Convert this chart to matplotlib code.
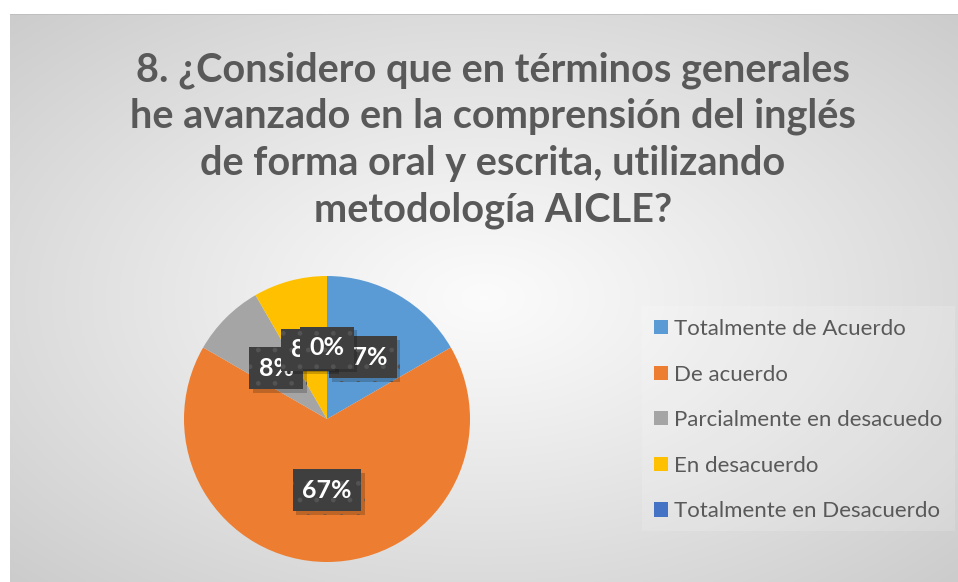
import numpy as np
import matplotlib
matplotlib.use("Agg")
import matplotlib.pyplot as plt
import matplotlib.patheffects as pe
from matplotlib.patches import Rectangle

# Survey answers (number of students per option)
categories = ["Totalmente de Acuerdo", "De acuerdo", "Parcialmente en desacuedo",
              "En desacuerdo", "Totalmente en Desacuerdo"]
counts = [2, 8, 1, 1, 0]
colors = ["#5B9BD5", "#ED7D31", "#A5A5A5", "#FFC000", "#4472C4"]
title_lines = ["8. ¿Considero que en términos generales",
               "he avanzado en la comprensión del inglés",
               "de forma oral y escrita, utilizando",
               "metodología AICLE?"]

W, H = 958, 582
fig = plt.figure(figsize=(W / 100, H / 100), dpi=100)
fig.patch.set_facecolor("white")

# chart area with a radial grey gradient
x0, y0 = 10, 0          # left / bottom in pixels
x1, y1 = 958, 568       # right / top in pixels
bg = fig.add_axes([x0 / W, y0 / H, (x1 - x0) / W, (y1 - y0) / H], zorder=-5)
gx, gy = np.meshgrid(np.linspace(-1, 1, 480), np.linspace(-1, 1, 290))
r = np.clip(np.sqrt(gx ** 2 + gy ** 2) / np.sqrt(2), 0, 1)
c_in, c_out = 0.985, 0.80
img = c_in + (c_out - c_in) * r ** 1.1
bg.imshow(np.dstack([img, img, img]), aspect="auto", extent=[0, 1, 0, 1])
bg.set_axis_off()
bg.plot([0, 1], [1, 1], color="#bdbdbd", lw=1.2, transform=bg.transAxes)

# title
tx = 493 / W
for i, line in enumerate(title_lines):
    fig.text(tx, 1 - (70 + 46.7 * i) / H, line, ha="center", va="center",
             fontsize=28.5, fontweight="bold", color="#595959", family="Lato")

# pie
cx, cy, rad = 327, 419, 143
ax = fig.add_axes([(cx - rad) / W, (H - cy - rad) / H, 2 * rad / W, 2 * rad / H])
wedges, texts, autotexts = ax.pie(
    counts, colors=colors, startangle=90, counterclock=False,
    autopct=lambda p: f"{p:.0f}%", pctdistance=0.5, radius=1,
    wedgeprops=dict(linewidth=0),
    textprops=dict(color="white", fontsize=18, fontweight="bold", family="Lato"))
ax.set_xlim(-1, 1)
ax.set_ylim(-1, 1)
ax.set_aspect("equal")

plt.rcParams["hatch.linewidth"] = 1.0
for i, t in enumerate(autotexts):
    t.set_bbox(dict(boxstyle="square,pad=0.38", fc="#3f3f3f", ec="#535353",
                    lw=0, hatch="."))
    t.set_zorder(10 + i)
    t.get_bbox_patch().set_path_effects(
        [pe.withSimplePatchShadow(offset=(2.5, -2.5), shadow_rgbFace="black", alpha=0.2),
         pe.Normal()])

# legend
fig.patches.append(Rectangle((642 / W, 1 - 531 / H), (955 - 642) / W, (531 - 306) / H,
                             transform=fig.transFigure, fc="white", alpha=0.15,
                             ec="none", zorder=-1))
leg = fig.legend(wedges, categories, loc="upper left",
                 bbox_to_anchor=(654 / W, 1 - 319 / H), frameon=False,
                 prop=dict(family="Lato", size=16), labelcolor="#595959",
                 handlelength=0.62, handleheight=0.62, handletextpad=0.3,
                 labelspacing=1.15, borderpad=0, borderaxespad=0)

fig.savefig("out.png", dpi=100)
